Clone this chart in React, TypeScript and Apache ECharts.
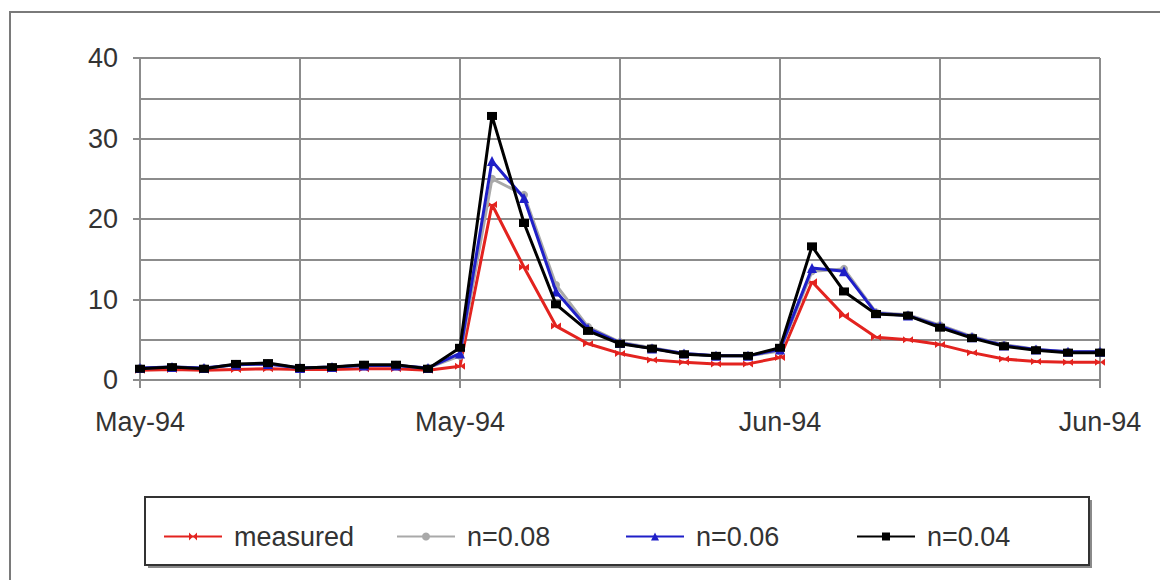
import React, { useEffect, useRef } from "react";
import * as echarts from "echarts";

const xTickLabels: Record<number, string> = { 0: "May-94", 10: "May-94", 20: "Jun-94", 30: "Jun-94" };
const seriesNames = ["measured", "n=0.08", "n=0.06", "n=0.04"];
const measured = [1.2, 1.3, 1.2, 1.3, 1.4, 1.3, 1.3, 1.4, 1.4, 1.2, 1.7, 21.8, 14.0, 6.7, 4.5, 3.3, 2.5, 2.2, 2.0, 2.0, 2.8, 12.2, 8.0, 5.3, 5.0, 4.4, 3.4, 2.6, 2.3, 2.2, 2.2];
const n08 = [1.5, 1.6, 1.5, 1.9, 2.0, 1.5, 1.6, 1.8, 1.8, 1.5, 3.0, 25.0, 23.0, 11.8, 6.6, 4.7, 4.0, 3.3, 3.0, 3.0, 3.6, 13.5, 13.8, 8.4, 8.1, 6.8, 5.4, 4.4, 3.8, 3.5, 3.5];
const n06 = [1.5, 1.6, 1.5, 1.9, 2.0, 1.5, 1.6, 1.8, 1.8, 1.5, 3.3, 27.2, 22.6, 11.0, 6.4, 4.6, 3.9, 3.3, 3.0, 3.0, 3.8, 13.9, 13.5, 8.3, 8.0, 6.7, 5.3, 4.3, 3.8, 3.5, 3.5];
const n04 = [1.4, 1.6, 1.4, 2.0, 2.1, 1.5, 1.6, 1.9, 1.9, 1.4, 4.0, 32.8, 19.5, 9.4, 6.1, 4.5, 3.9, 3.2, 3.0, 3.0, 4.0, 16.6, 11.0, 8.2, 8.0, 6.5, 5.2, 4.2, 3.7, 3.4, 3.4];
const colors = ["#e3231f", "#a9a9a9", "#1f1fc8", "#000000"];

const bowtie = "path://M0,0 L10,5 L0,10 Z M20,0 L10,5 L20,10 Z";

export default function App() {
  const ref = useRef<HTMLDivElement>(null);
  useEffect(() => {
    if (!ref.current) return;
    const chart = echarts.init(ref.current, undefined, { renderer: "svg" });
    const toPairs = (arr: number[]) => arr.map((v, i) => [i, v]);
    const font = "Liberation Sans, Arial, sans-serif";
    const gridColor = "#8c8c8c";
    const symbols = [bowtie, "circle", "triangle", "rect"];
    const symbolSizes: any[] = [[10, 7], 8, 10, [10, 8]];
    const all = [measured, n08, n06, n04];
    const legendLefts = [158, 391, 620, 851];
    chart.setOption({
      animation: false,
      backgroundColor: "#ffffff",
      grid: { left: 140, right: 60, top: 58, bottom: 200, containLabel: false },
      xAxis: {
        type: "value",
        min: 0,
        max: 30,
        interval: 5,
        axisLine: { show: true, lineStyle: { color: gridColor, width: 2 } },
        axisTick: { show: true, length: 8, lineStyle: { color: gridColor, width: 2 } },
        splitLine: { show: true, lineStyle: { color: gridColor, width: 2 } },
        axisLabel: {
          formatter: (v: number) => xTickLabels[v] ?? "",
          fontFamily: font,
          fontSize: 27,
          color: "#333",
          margin: 28,
        },
      },
      yAxis: {
        type: "value",
        min: 0,
        max: 40,
        interval: 10,
        axisLine: { show: true, lineStyle: { color: gridColor, width: 2 } },
        axisTick: { show: true, length: 7, lineStyle: { color: gridColor, width: 2 } },
        splitLine: { show: true, lineStyle: { color: gridColor, width: 2 } },
        minorTick: { show: false, splitNumber: 2 },
        minorSplitLine: { show: true, lineStyle: { color: gridColor, width: 2 } },
        axisLabel: { fontFamily: font, fontSize: 27, color: "#333", margin: 22 },
      },
      legend: seriesNames.map((name, k) => ({
        show: true,
        left: legendLefts[k],
        top: 518,
        itemWidth: 58,
        itemHeight: 10,
        textStyle: { fontFamily: font, fontSize: 27, color: "#333", padding: [0, 0, 0, 7] },
        data: [name],
      })),
      graphic: [
        {
          type: "rect",
          shape: { x: 10, y: 12, width: 1170, height: 600 },
          style: { fill: "none", stroke: "#7a7a7a", lineWidth: 2 },
          silent: true,
          z: -10,
        },
        {
          type: "rect",
          shape: { x: 148, y: 500, width: 944, height: 68 },
          style: { fill: "#8a8a8a", stroke: "none" },
          silent: true,
          z: -10,
        },
        {
          type: "rect",
          shape: { x: 145, y: 497, width: 944, height: 68 },
          style: { fill: "#ffffff", stroke: "#333333", lineWidth: 2 },
          silent: true,
          z: -9,
        },
      ],
      series: all.map((arr, k) => ({
        name: seriesNames[k],
        type: "line",
        data: toPairs(arr),
        symbol: symbols[k],
        symbolSize: symbolSizes[k],
        showSymbol: true,
        lineStyle: { color: colors[k], width: 3 },
        itemStyle: { color: colors[k] },
        z: 2 + k,
      })),
    });
    return () => chart.dispose();
  }, []);
  return <div ref={ref} style={{ position: "fixed", left: 0, top: 0, width: 1160, height: 580 }} />;
}
